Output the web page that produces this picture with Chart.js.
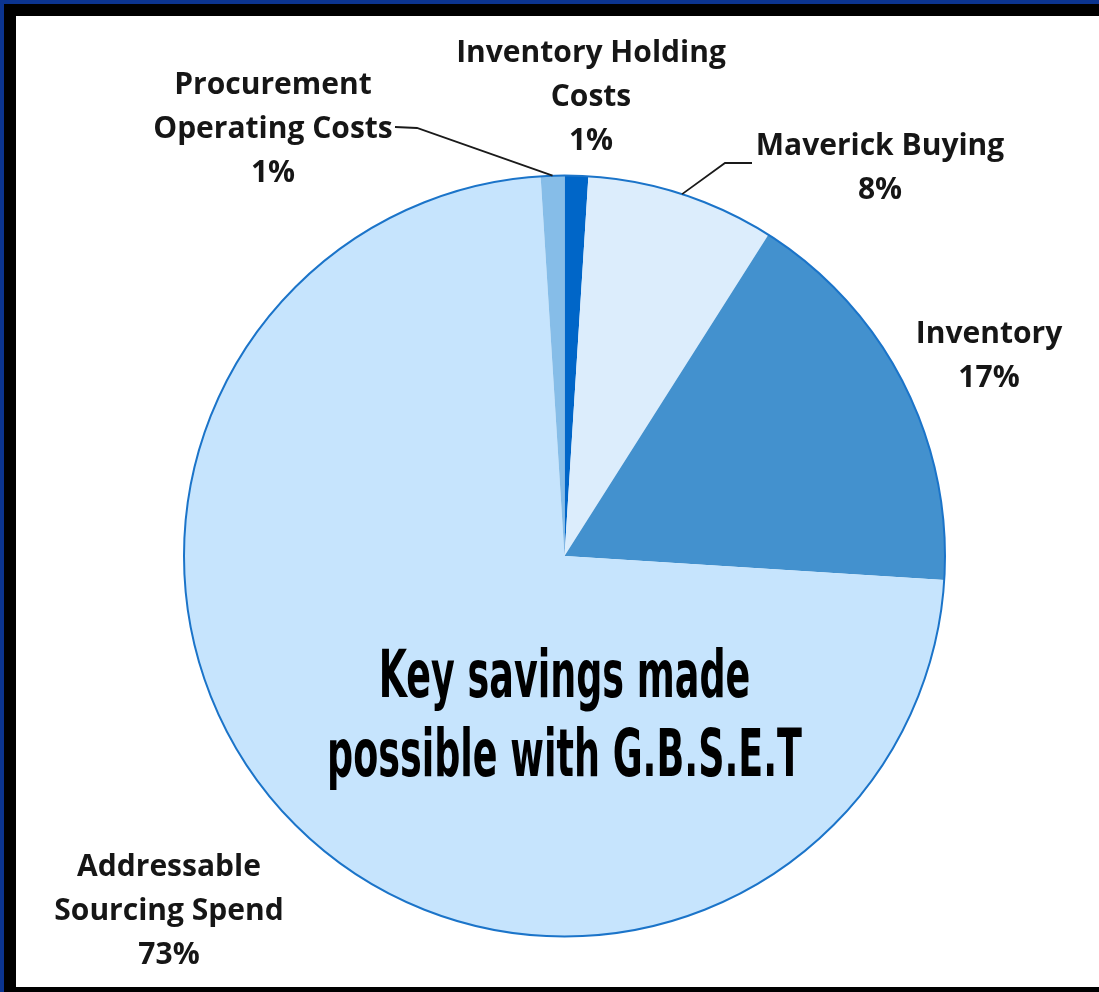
<!DOCTYPE html>
<html>
<head>
<meta charset="utf-8">
<title>Key savings</title>
<script src="https://cdn.jsdelivr.net/npm/chart.js@4/dist/chart.umd.min.js"></script>
<style>
    html, body { margin: 0; padding: 0; background: #fff; overflow: hidden; }
    #bandTop { position: fixed; left: 0; top: 0; width: 1099px; height: 4px; background: #0b3490; }
    #blackTop { position: fixed; left: 4px; top: 4px; width: 1095px; height: 12px; background: #000; }
    #bandLeft { position: fixed; left: 0; top: 0; width: 4px; height: 992px; background: #0b3490; }
    #blackLeft { position: fixed; left: 4px; top: 4px; width: 12px; height: 988px; background: #000; }
    #blackBottom { position: fixed; left: 4px; top: 987px; width: 1095px; height: 5px; background: #000; }
    #savingsChart { position: fixed; left: 0; top: 0; }
</style>
</head>
<body>
<div id="bandTop"></div>
<div id="blackTop"></div>
<div id="bandLeft"></div>
<div id="blackLeft"></div>
<div id="blackBottom"></div>
<canvas id="savingsChart" width="1099" height="992"></canvas>
<script>
// Categorías y porcentajes (sentido horario desde arriba)
const categoryLines = [
    ['Inventory Holding', 'Costs'],
    ['Maverick Buying'],
    ['Inventory'],
    ['Addressable', 'Sourcing Spend'],
    ['Procurement', 'Operating Costs']
];
const categories = categoryLines.map(l => l.join(' '));
const shares = [1, 8, 17, 73, 1];
const sliceColors = ['#0066c8', '#dcedfc', '#4391ce', '#c6e4fd', '#86bde8'];

const titleLines = ['Key savings made', 'possible with G.B.S.E.T'];

// Posición de las etiquetas (centro x, línea base de la primera línea)
const labelPos = [
    { x: 591, y: 62 },
    { x: 880, y: 155 },
    { x: 989, y: 343 },
    { x: 169, y: 876 },
    { x: 273, y: 94 }
];
// Tramo de la línea guía junto al texto (solo para las que la llevan)
const leaders = {
    1: [[752, 163], [725, 163]],
    4: [[395, 127], [417, 128]]
};

const labelsPlugin = {
    id: 'pieLabels',
    afterDatasetsDraw(chart) {
        const ctx = chart.ctx;
        const arcs = chart.getDatasetMeta(0).data;
        const first = arcs[0];
        const cx = first.x, cy = first.y, r = first.outerRadius;

        // borde exterior del pastel
        ctx.save();
        ctx.strokeStyle = '#1b74c9';
        ctx.lineWidth = 2;
        ctx.beginPath();
        ctx.arc(cx, cy, r, 0, Math.PI * 2);
        ctx.stroke();
        ctx.restore();

        // líneas guía hasta el punto medio del arco
        ctx.save();
        ctx.strokeStyle = '#1a1a1a';
        ctx.lineWidth = 1.8;
        Object.keys(leaders).forEach(k => {
            const arc = arcs[k];
            const mid = (arc.startAngle + arc.endAngle) / 2;
            const pts = leaders[k];
            ctx.beginPath();
            ctx.moveTo(pts[0][0], pts[0][1]);
            ctx.lineTo(pts[1][0], pts[1][1]);
            ctx.lineTo(cx + Math.cos(mid) * r, cy + Math.sin(mid) * r);
            ctx.stroke();
        });
        ctx.restore();

        // etiquetas con nombre y porcentaje
        ctx.save();
        ctx.fillStyle = '#161616';
        ctx.font = 'bold 30px "Open Sans"';
        ctx.textAlign = 'center';
        ctx.textBaseline = 'alphabetic';
        categoryLines.forEach((lines, i) => {
            const all = lines.concat([shares[i] + '%']);
            all.forEach((t, j) => {
                ctx.fillText(t, labelPos[i].x, labelPos[i].y + j * 44);
            });
        });
        ctx.restore();

        // texto central
        ctx.save();
        ctx.fillStyle = '#000';
        ctx.font = 'bold 66px "DejaVu Sans Condensed"';
        ctx.textAlign = 'center';
        const sx = 475 / ctx.measureText(titleLines[1]).width;
        titleLines.forEach((t, j) => {
            ctx.save();
            ctx.translate(cx, 697 + j * 79);
            ctx.scale(sx, 1);
            ctx.fillText(t, 0, 0);
            ctx.restore();
        });
        ctx.restore();
    }
};

new Chart(document.getElementById('savingsChart'), {
    type: 'pie',
    data: {
        labels: categories,
        datasets: [{
            data: shares,
            backgroundColor: sliceColors,
            borderWidth: 0
        }]
    },
    options: {
        responsive: false,
        animation: false,
        layout: {
            padding: { left: 184, right: 154, top: 175, bottom: 55 }
        },
        plugins: {
            legend: { display: false },
            tooltip: { enabled: false }
        }
    },
    plugins: [labelsPlugin]
});
</script>
</body>
</html>
